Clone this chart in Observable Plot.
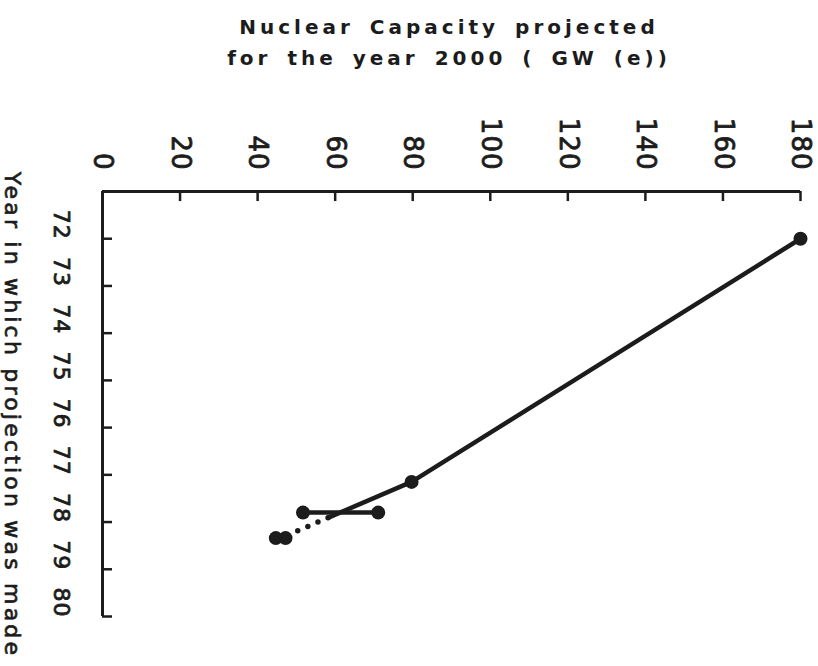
<!DOCTYPE html>
<html>
<head>
<meta charset="utf-8">
<script src="https://cdn.jsdelivr.net/npm/d3@7"></script>
<script src="https://cdn.jsdelivr.net/npm/@observablehq/plot@0.6"></script>
<style>
  html, body { margin: 0; padding: 0; background: #fff; }
  #wrap { width: 818px; height: 666px; position: relative; overflow: hidden; }
  #title {
    height: 80px; box-sizing: border-box; padding-top: 12px;
    width: 818px; padding-left: 80px;
    text-align: center; font-family: "DejaVu Sans", sans-serif; font-weight: bold;
    font-size: 20px; line-height: 31px; letter-spacing: 4px; word-spacing: 5px;
    color: #1c1c1c;
  }
  svg { display: block; }
</style>
</head>
<body>
<div id="wrap">
  <div id="title">Nuclear Capacity projected<br>for the year 2000 ( GW (e))</div>
  <div id="chart"></div>
</div>
<script>
// Tick values
const xTicks = [0, 20, 40, 60, 80, 100, 120, 140, 160, 180];
const yTicks = [72, 73, 74, 75, 76, 77, 78, 79, 80];

// Solid projection line (year of projection -> GW(e) projected for 2000)
const solidYears  = [72, 77.15, 77.9];
const solidValues = [180, 79.7, 58.4];

// Horizontal segment (range given in one projection)
const rangeYears  = [77.8, 77.8];
const rangeValues = [51.7, 71.1];

// Dotted extension
const dottedYears  = [77.9, 78.34];
const dottedValues = [58.4, 46];

// Plotted points
const pointYears  = [72, 77.15, 77.8, 77.8, 78.34, 78.34];
const pointValues = [180, 79.7, 51.7, 71.1, 44.7, 47.2];

const yTitle = "Year in which projection was made";

const ink = "#1c1c1c";
const toRows = (ys, vs) => ys.map((y, i) => ({year: y, value: vs[i]}));
const solid = toRows(solidYears, solidValues);
const range = toRows(rangeYears, rangeValues);
const dotted = toRows(dottedYears, dottedValues);
const points = toRows(pointYears, pointValues);

const tickLenY = 10 / 47;   // in year units (~10px)
const tickLenX = 10 / 3.88; // in GW units (~10px)

const chart = Plot.plot({
  width: 818,
  height: 586,
  marginTop: 111,
  marginBottom: 50,
  marginLeft: 102,
  marginRight: 18,
  style: {fontFamily: "DejaVu Sans, sans-serif", color: ink, background: "#fff"},
  x: {domain: [0, 180], axis: null},
  y: {domain: [71, 80], reverse: true, axis: null},
  marks: [
    // frame lines
    Plot.ruleY([71], {x1: 0, x2: 180, stroke: ink, strokeWidth: 3}),
    Plot.ruleX([0], {y1: 71, y2: 80, stroke: ink, strokeWidth: 3}),
    // inward ticks
    Plot.ruleX(xTicks.filter(d => d > 0), {x: d => d, y1: 71, y2: 71 + tickLenY, stroke: ink, strokeWidth: 2.5}),
    Plot.ruleY(yTicks, {y: d => d, x1: 0, x2: tickLenX, stroke: ink, strokeWidth: 2.5}),
    // tick labels
    Plot.text(xTicks, {x: d => d, text: d => String(d), frameAnchor: "top", dy: -21,
      rotate: 90, textAnchor: "end", lineAnchor: "middle", fontSize: 26, fill: ink,
      stroke: ink, strokeWidth: 0.8, ariaDescription: "xlab"}),
    Plot.text(yTicks, {y: d => d, text: d => String(d), frameAnchor: "left", dx: -41, dy: -14,
      rotate: 90, textAnchor: "middle", lineAnchor: "middle", fontSize: 22, fill: ink,
      stroke: ink, strokeWidth: 0.8, ariaDescription: "ylab"}),
    // y axis title
    Plot.text([yTitle], {text: d => d, frameAnchor: "left", dx: -90, dy: 11, rotate: 90,
      textAnchor: "middle", lineAnchor: "middle", fontSize: 22, fill: ink,
      stroke: ink, strokeWidth: 0.7, ariaDescription: "ytitle"}),
    // data
    Plot.line(solid, {x: "value", y: "year", stroke: ink, strokeWidth: 4.5, strokeLinecap: "round", strokeLinejoin: "round"}),
    Plot.line(range, {x: "value", y: "year", stroke: ink, strokeWidth: 4.5, strokeLinecap: "round"}),
    Plot.line(dotted, {x: "value", y: "year", stroke: ink, strokeWidth: 5.5, strokeLinecap: "round",
      strokeDasharray: "0,11", strokeDashoffset: -1}),
    Plot.dot(points, {x: "value", y: "year", r: 7, fill: ink, stroke: "none"})
  ]
});

document.getElementById("chart").appendChild(chart);
d3.select(chart).selectAll("g[aria-description='ytitle'] text").style("letter-spacing", "3.2px");
d3.select(chart).selectAll("g[aria-description='xlab'] text").style("letter-spacing", "1px");
d3.select(chart).selectAll("g[aria-description='ylab'] text").style("letter-spacing", "1px");
</script>
</body>
</html>
